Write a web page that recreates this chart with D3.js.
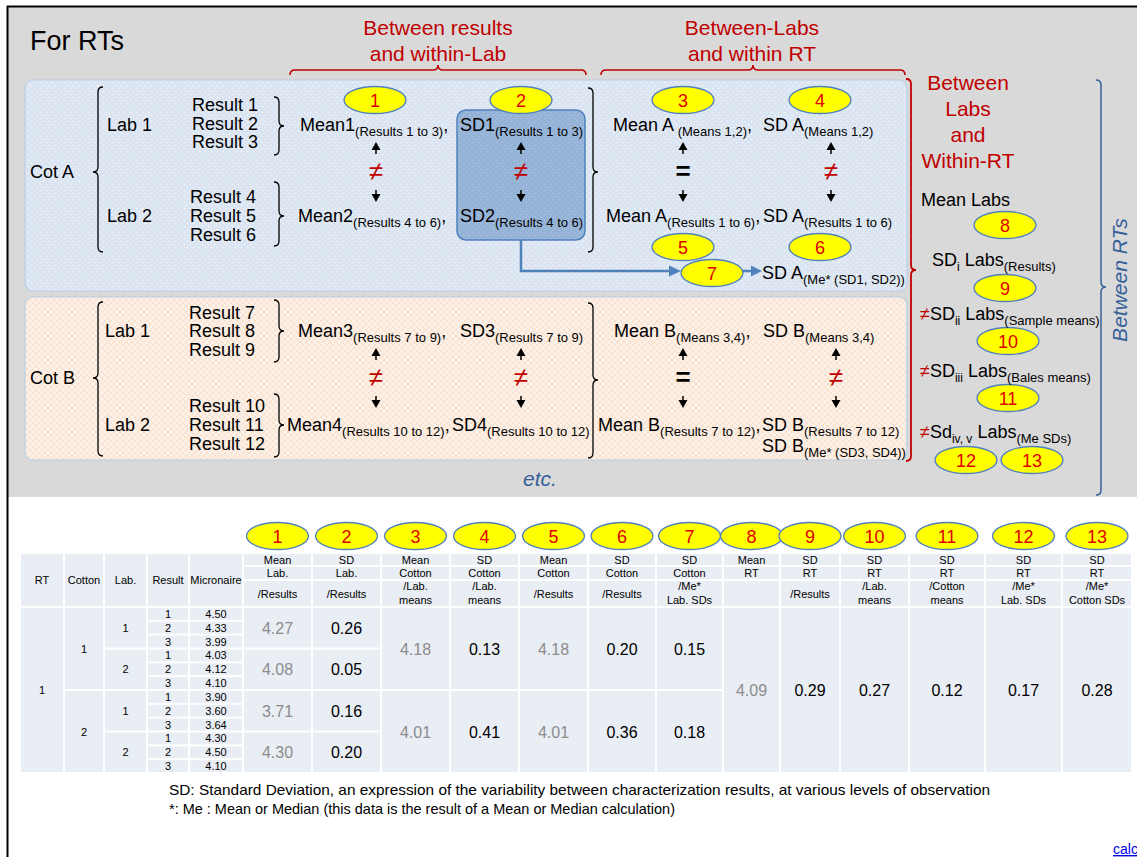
<!DOCTYPE html>
<html><head><meta charset="utf-8">
<script src="https://cdn.jsdelivr.net/npm/d3@7"></script>
<style>
html,body{margin:0;padding:0;background:#fff;overflow:hidden}
text{font-family:"Liberation Sans",Arial,Helvetica,sans-serif;white-space:pre}
</style>
</head><body>
<svg id="c" width="1137" height="857"></svg>
<script>
// ---------------- DATA ----------------
const bubbleLabels = ["1","2","3","4","5","6","7","8","9","10","11","12","13"];
const leftHeaders = ["RT","Cotton","Lab.","Result","Micronaire"];
const headerRow1 = ["Mean","SD","Mean","SD","Mean","SD","SD","Mean","SD","SD","SD","SD","SD"];
const headerRow2 = ["Lab.","Lab.","Cotton","Cotton","Cotton","Cotton","Cotton","RT","RT","RT","RT","RT","RT"];
const headerRow3 = ["/Results","/Results","/Lab.|means","/Lab.|means","/Results","/Results","/Me*|Lab. SDs","","/Results","/Lab.|means","/Cotton|means","/Me*|Lab. SDs","/Me*|Cotton SDs"];
const rtIds = ["1"];
const cottonIds = ["1","2"];
const labIds = ["1","2","1","2"];
const resultIds = ["1","2","3","1","2","3","1","2","3","1","2","3"];
const micronaire = [4.50,4.33,3.99,4.03,4.12,4.10,3.90,3.60,3.64,4.30,4.50,4.10];
const meanLab = [4.27,4.08,3.71,4.30];
const sdLab = [0.26,0.05,0.16,0.20];
const meanCottonLab = [4.18,4.01];
const sdCottonLab = [0.13,0.41];
const meanCottonRes = [4.18,4.01];
const sdCottonRes = [0.20,0.36];
const sdCottonMe = [0.15,0.18];
const meanRT = [4.09];
const sdRTResults = [0.29];
const sdRTLabMeans = [0.27];
const sdRTCottonMeans = [0.12];
const sdRTMeLab = [0.17];
const sdRTMeCotton = [0.28];
const footnotes = ["SD: Standard Deviation, an expression of the variability between characterization results, at various levels of observation",
                   "*: Me : Mean or Median (this data is the result of a Mean or Median calculation)"];

// ---------------- SETUP ----------------
const svg = d3.select("#c");
const RED = "#c00000", NUMRED = "#e00000", BLUE = "#4f81bd", NAVY = "#36609a";
const defs = svg.append("defs");
const pd = defs.append("pattern").attr("id","dots").attr("width",6).attr("height",6).attr("patternUnits","userSpaceOnUse");
pd.append("rect").attr("width",6).attr("height",6).attr("fill","#dbe5f1");
pd.append("circle").attr("cx",1.5).attr("cy",1.5).attr("r",0.8).attr("fill","#f2f6fb");
pd.append("circle").attr("cx",4.5).attr("cy",4.5).attr("r",0.8).attr("fill","#f2f6fb");
const pb = defs.append("pattern").attr("id","dots2").attr("width",6).attr("height",6).attr("patternUnits","userSpaceOnUse");
pb.append("rect").attr("width",6).attr("height",6).attr("fill","#95b3d7");
pb.append("circle").attr("cx",1.5).attr("cy",1.5).attr("r",0.8).attr("fill","#a9c2e0");
pb.append("circle").attr("cx",4.5).attr("cy",4.5).attr("r",0.8).attr("fill","#a9c2e0");
const ph = defs.append("pattern").attr("id","hatch").attr("width",6).attr("height",6).attr("patternUnits","userSpaceOnUse");
ph.append("rect").attr("width",6).attr("height",6).attr("fill","#fdf0e6");
ph.append("path").attr("d","M0,0L6,6M6,0L0,6").attr("stroke","#f6dcc8").attr("stroke-width",0.8);

function rich(x, y, segs, o = {}) {
  const size = o.size || 18, sub = o.sub || 13;
  const t = svg.append("text").attr("x", x).attr("y", y).attr("font-size", size)
    .attr("fill", o.fill || "#000").attr("text-anchor", o.anchor || "start");
  let cur = 0;
  segs.forEach(s => {
    if (typeof s === "string") s = { t: s };
    const off = s.sub ? (s.shift ?? 5) : 0;
    const ts = t.append("tspan").attr("dy", off - cur).text(s.t);
    if (s.sub) ts.attr("font-size", s.size || sub);
    if (s.fill) ts.attr("fill", s.fill);
    cur = off;
  });
  return t;
}
function vbrace(x, y1, y2, w, dir, ym, color, sw) {
  ym = ym ?? (y1 + y2) / 2; const h = w / 2;
  const d = `M${x - dir*h},${y1} Q${x},${y1} ${x},${y1+h} L${x},${ym-h} Q${x},${ym} ${x+dir*h},${ym} Q${x},${ym} ${x},${ym+h} L${x},${y2-h} Q${x},${y2} ${x-dir*h},${y2}`;
  svg.append("path").attr("d", d).attr("fill","none").attr("stroke", color || "#000").attr("stroke-width", sw || 1.3);
}
function hbrace(x1, x2, y, h, color) {
  const xm = (x1 + x2) / 2, r = h / 2;
  const d = `M${x1},${y+r} Q${x1},${y} ${x1+r},${y} L${xm-r},${y} Q${xm},${y} ${xm},${y-r} Q${xm},${y} ${xm+r},${y} L${x2-r},${y} Q${x2},${y} ${x2},${y+r}`;
  svg.append("path").attr("d", d).attr("fill","none").attr("stroke", color).attr("stroke-width", 1.6);
}
function bubble(cx, cy, label, rx = 31, ry = 13.5) {
  svg.append("ellipse").attr("cx",cx).attr("cy",cy).attr("rx",rx).attr("ry",ry)
    .attr("fill","#ffff00").attr("stroke",BLUE).attr("stroke-width",1.3);
  svg.append("text").attr("x",cx).attr("y",cy+6.5).attr("text-anchor","middle")
    .attr("font-size",18).attr("fill",NUMRED).text(label);
}
function vArrows(x, yc, sym) {
  const up = yc - 30, dn = yc + 30;
  svg.append("path").attr("d",`M${x},${up} L${x+4.5},${up+8} L${x-4.5},${up+8}Z`).attr("fill","#000");
  svg.append("line").attr("x1",x).attr("x2",x).attr("y1",up+7).attr("y2",up+12).attr("stroke","#000").attr("stroke-width",1.5);
  svg.append("path").attr("d",`M${x},${dn} L${x+4.5},${dn-8} L${x-4.5},${dn-8}Z`).attr("fill","#000");
  svg.append("line").attr("x1",x).attr("x2",x).attr("y1",dn-12).attr("y2",dn-7).attr("stroke","#000").attr("stroke-width",1.5);
  if (sym === "ne") svg.append("text").attr("x",x).attr("y",yc+8).attr("text-anchor","middle").attr("font-size",26).attr("fill",RED).text("≠");
  else svg.append("text").attr("x",x).attr("y",yc+8).attr("text-anchor","middle").attr("font-size",26).attr("font-weight","bold").attr("fill","#000").text("=");
}

// ---------------- BACKGROUND ----------------
svg.append("rect").attr("x",8).attr("y",7).attr("width",1129).attr("height",490).attr("fill","#d9d9d9");
svg.append("line").attr("x1",7).attr("x2",1137).attr("y1",6.5).attr("y2",6.5).attr("stroke","#000").attr("stroke-width",2);
svg.append("line").attr("x1",7.5).attr("x2",7.5).attr("y1",6).attr("y2",857).attr("stroke","#000").attr("stroke-width",2);

svg.append("text").attr("x",30).attr("y",50).attr("font-size",27).text("For RTs");
svg.append("text").attr("x",438).attr("y",35).attr("font-size",21).attr("fill",RED).attr("text-anchor","middle").text("Between results");
svg.append("text").attr("x",438).attr("y",61).attr("font-size",21).attr("fill",RED).attr("text-anchor","middle").text("and within-Lab");
svg.append("text").attr("x",752).attr("y",35).attr("font-size",21).attr("fill",RED).attr("text-anchor","middle").text("Between-Labs");
svg.append("text").attr("x",752).attr("y",61).attr("font-size",21).attr("fill",RED).attr("text-anchor","middle").text("and within RT");
hbrace(290, 586, 70, 10, RED);
hbrace(601, 905, 70, 10, RED);

// panels
svg.append("rect").attr("x",25).attr("y",80).attr("width",882).attr("height",211).attr("rx",8)
  .attr("fill","url(#dots)").attr("stroke","#b9cde5").attr("stroke-width",1.2);
svg.append("rect").attr("x",25).attr("y",297).attr("width",882).attr("height",163).attr("rx",8)
  .attr("fill","url(#hatch)").attr("stroke","#b9cde5").attr("stroke-width",1.2);

// SD highlight box
svg.append("rect").attr("x",457).attr("y",110).attr("width",128).attr("height",130).attr("rx",9)
  .attr("fill","url(#dots2)").attr("stroke",BLUE).attr("stroke-width",1.5);

// ---- Cot A ----
svg.append("text").attr("x",30).attr("y",178).attr("font-size",18).text("Cot A");
vbrace(98, 87, 252, 10, -1, 172);
svg.append("text").attr("x",107).attr("y",131).attr("font-size",18).text("Lab 1");
svg.append("text").attr("x",107).attr("y",222).attr("font-size",18).text("Lab 2");
[["Result 1",111],["Result 2",130],["Result 3",148]].forEach(d=>svg.append("text").attr("x",192).attr("y",d[1]).attr("font-size",18).text(d[0]));
[["Result 4",203],["Result 5",222],["Result 6",241]].forEach(d=>svg.append("text").attr("x",190).attr("y",d[1]).attr("font-size",18).text(d[0]));
vbrace(279, 97, 155, 10, 1, 126);
vbrace(279, 182, 246, 10, 1, 216);
rich(300, 131, ["Mean1", {t:"(Results 1 to 3)",sub:1}, ","]);
rich(460, 131, ["SD1", {t:"(Results 1 to 3)",sub:1}]);
rich(298, 222, ["Mean2", {t:"(Results 4 to 6)",sub:1}, ","]);
rich(460, 222, ["SD2", {t:"(Results 4 to 6)",sub:1}]);
vbrace(593, 88, 252, 10, 1, 172);
rich(613, 131, ["Mean A", {t:" (Means 1,2)",sub:1}, ","]);
rich(763, 131, ["SD A", {t:"(Means 1,2)",sub:1}]);
rich(606, 222, ["Mean A", {t:"(Results 1 to 6)",sub:1}, ","]);
rich(763, 222, ["SD A", {t:"(Results 1 to 6)",sub:1}]);
rich(762, 279, ["SD A", {t:"(Me* (SD1, SD2))",sub:1}]);
vArrows(376, 172, "ne"); vArrows(521, 172, "ne"); vArrows(683, 172, "eq"); vArrows(831, 172, "ne");

// connector
svg.append("path").attr("d","M521,240 L521,271 L670,271").attr("fill","none").attr("stroke",BLUE).attr("stroke-width",2.5);
svg.append("path").attr("d","M681,271 L669,265.5 L669,276.5Z").attr("fill",BLUE);
svg.append("line").attr("x1",743).attr("x2",752).attr("y1",271).attr("y2",271).attr("stroke",BLUE).attr("stroke-width",2.5);
svg.append("path").attr("d","M762,271 L751,265.5 L751,276.5Z").attr("fill",BLUE);

// ---- Cot B ----
svg.append("text").attr("x",30).attr("y",384).attr("font-size",18).text("Cot B");
vbrace(98, 302, 456, 10, -1, 378);
svg.append("text").attr("x",105).attr("y",337).attr("font-size",18).text("Lab 1");
svg.append("text").attr("x",105).attr("y",431).attr("font-size",18).text("Lab 2");
[["Result 7",319],["Result 8",337],["Result 9",356]].forEach(d=>svg.append("text").attr("x",189).attr("y",d[1]).attr("font-size",18).text(d[0]));
[["Result 10",412],["Result 11",431],["Result 12",450]].forEach(d=>svg.append("text").attr("x",189).attr("y",d[1]).attr("font-size",18).text(d[0]));
vbrace(279, 300, 362, 10, 1, 331);
vbrace(279, 394, 457, 10, 1, 425);
rich(298, 337, ["Mean3", {t:"(Results 7 to 9)",sub:1}, ","]);
rich(460, 337, ["SD3", {t:"(Results 7 to 9)",sub:1}]);
rich(287, 431, ["Mean4", {t:"(Results 10 to 12)",sub:1}, ","]);
rich(452, 431, ["SD4", {t:"(Results 10 to 12)",sub:1}]);
vbrace(593, 303, 458, 10, 1, 380);
rich(614, 337, ["Mean B", {t:"(Means 3,4)",sub:1}, ","]);
rich(763, 337, ["SD B", {t:"(Means 3,4)",sub:1}]);
rich(598, 431, ["Mean B", {t:"(Results 7 to 12)",sub:1}, ","]);
rich(762, 431, ["SD B", {t:"(Results 7 to 12)",sub:1}]);
rich(762, 452, ["SD B", {t:"(Me* (SD3, SD4))",sub:1}]);
vArrows(376, 378, "ne"); vArrows(521, 378, "ne"); vArrows(683, 378, "eq"); vArrows(836, 378, "ne");

svg.append("text").attr("x",523).attr("y",486).attr("font-size",21).attr("font-style","italic").attr("fill",NAVY).text("etc.");

// diagram bubbles
const diagBubbles = [[375,100],[521,100],[683,100],[820,100],[683,247],[820,247],[712,273],[1005,225],[1005,288],[1008,341],[1008,398],[966,460],[1032,460]];
diagBubbles.forEach((p,i)=>bubble(p[0],p[1],bubbleLabels[i]));

// right side
vbrace(911, 79, 461, 10, 1, 270, RED, 1.8);
["Between","Labs","and","Within-RT"].forEach((s,i)=>svg.append("text").attr("x",968).attr("y",90+i*26).attr("font-size",21).attr("fill",RED).attr("text-anchor","middle").text(s));
svg.append("text").attr("x",921).attr("y",206).attr("font-size",18).text("Mean Labs");
rich(932, 266, ["SD", {t:"i",sub:1,size:12}, " Labs", {t:"(Results)",sub:1,size:13}]);
rich(920, 320, [{t:"≠",fill:RED}, "SD", {t:"ii",sub:1,size:12}, " Labs", {t:"(Sample means)",sub:1,size:13}]);
rich(920, 377, [{t:"≠",fill:RED}, "SD", {t:"iii",sub:1,size:12}, " Labs", {t:"(Bales means)",sub:1,size:13}]);
rich(920, 438, [{t:"≠",fill:RED}, "Sd", {t:"iv, v",sub:1,size:12}, " Labs", {t:"(Me SDs)",sub:1,size:13}]);
vbrace(1101, 80, 495, 10, 1, 287, NAVY, 1.5);
svg.append("text").attr("transform","translate(1127,280) rotate(-90)").attr("text-anchor","middle")
  .attr("font-size",21).attr("font-style","italic").attr("fill",NAVY).text("Between RTs");

// ---------------- TABLE ----------------
const colEdges = [20,64,104,147,189,243,312,381,450,519,588,656,723,780,840,909,985,1062,1132];
const hdrY = [553,566,580,607];
const y = d3.scaleLinear().domain([0,12]).range([607,773]);
const CELL = "#e9edf4";
const spans = (n, each) => d3.range(n).map(i => [i*each, (i+1)*each]);
const fmt = d3.format(".2f");
const tableCols = [
  {sp: spans(1,12), v: rtIds, st:"s"},
  {sp: spans(2,6), v: cottonIds, st:"s"},
  {sp: spans(4,3), v: labIds, st:"s"},
  {sp: spans(12,1), v: resultIds, st:"s"},
  {sp: spans(12,1), v: micronaire.map(fmt), st:"s"},
  {sp: spans(4,3), v: meanLab.map(fmt), st:"g"},
  {sp: spans(4,3), v: sdLab.map(fmt), st:"b"},
  {sp: spans(2,6), v: meanCottonLab.map(fmt), st:"g"},
  {sp: spans(2,6), v: sdCottonLab.map(fmt), st:"b"},
  {sp: spans(2,6), v: meanCottonRes.map(fmt), st:"g"},
  {sp: spans(2,6), v: sdCottonRes.map(fmt), st:"b"},
  {sp: spans(2,6), v: sdCottonMe.map(fmt), st:"b"},
  {sp: spans(1,12), v: meanRT.map(fmt), st:"g"},
  {sp: spans(1,12), v: sdRTResults.map(fmt), st:"b"},
  {sp: spans(1,12), v: sdRTLabMeans.map(fmt), st:"b"},
  {sp: spans(1,12), v: sdRTCottonMeans.map(fmt), st:"b"},
  {sp: spans(1,12), v: sdRTMeLab.map(fmt), st:"b"},
  {sp: spans(1,12), v: sdRTMeCotton.map(fmt), st:"b"}
];
const cell = (x0,x1,y0,y1) => svg.append("rect").attr("x",x0+1).attr("y",y0+1).attr("width",x1-x0-2).attr("height",y1-y0-2).attr("fill",CELL);
// left header
leftHeaders.forEach((h,i)=>{
  const x0 = colEdges[i], x1 = colEdges[i+1];
  cell(x0,x1,hdrY[0],hdrY[3]);
  svg.append("text").attr("x",(x0+x1)/2).attr("y",(hdrY[0]+hdrY[3])/2+4).attr("text-anchor","middle").attr("font-size",11).text(h);
});
// value headers
headerRow1.forEach((h,j)=>{
  const x0 = colEdges[j+5], x1 = colEdges[j+6], cx=(x0+x1)/2;
  cell(x0,x1,hdrY[0],hdrY[1]); cell(x0,x1,hdrY[1],hdrY[2]); cell(x0,x1,hdrY[2],hdrY[3]);
  svg.append("text").attr("x",cx).attr("y",hdrY[0]+10.5).attr("text-anchor","middle").attr("font-size",11).text(h);
  svg.append("text").attr("x",cx).attr("y",hdrY[1]+11).attr("text-anchor","middle").attr("font-size",11).text(headerRow2[j]);
  const parts = headerRow3[j] ? headerRow3[j].split("|") : [];
  if (parts.length === 1) svg.append("text").attr("x",cx).attr("y",597.5).attr("text-anchor","middle").attr("font-size",11).text(parts[0]);
  if (parts.length === 2) { svg.append("text").attr("x",cx).attr("y",590).attr("text-anchor","middle").attr("font-size",11).text(parts[0]);
    svg.append("text").attr("x",cx).attr("y",603.5).attr("text-anchor","middle").attr("font-size",11).text(parts[1]); }
  bubble(cx, 536, bubbleLabels[j], 31, 13.5);
});
// body
tableCols.forEach((c,i)=>{
  const x0 = colEdges[i], x1 = colEdges[i+1], cx=(x0+x1)/2;
  c.sp.forEach((s,k)=>{
    const y0 = y(s[0]), y1 = y(s[1]), cy=(y0+y1)/2;
    cell(x0,x1,y0,y1);
    const t = svg.append("text").attr("x",cx).attr("text-anchor","middle").text(c.v[k]);
    if (c.st === "s") t.attr("y",cy+4).attr("font-size",11);
    else t.attr("y",cy+6).attr("font-size",16).attr("fill", c.st === "g" ? "#8c8c8c" : "#000");
  });
});

// footnotes
svg.append("text").attr("x",169).attr("y",795).attr("font-size",14.5).attr("textLength",821).attr("lengthAdjust","spacingAndGlyphs").text(footnotes[0]);
svg.append("text").attr("x",169).attr("y",814).attr("font-size",14.5).attr("textLength",506).attr("lengthAdjust","spacingAndGlyphs").text(footnotes[1]);
svg.append("text").attr("x",1113).attr("y",854).attr("font-size",14).attr("fill","#0000ee").attr("text-decoration","underline").text("calc");
</script>
</body></html>
